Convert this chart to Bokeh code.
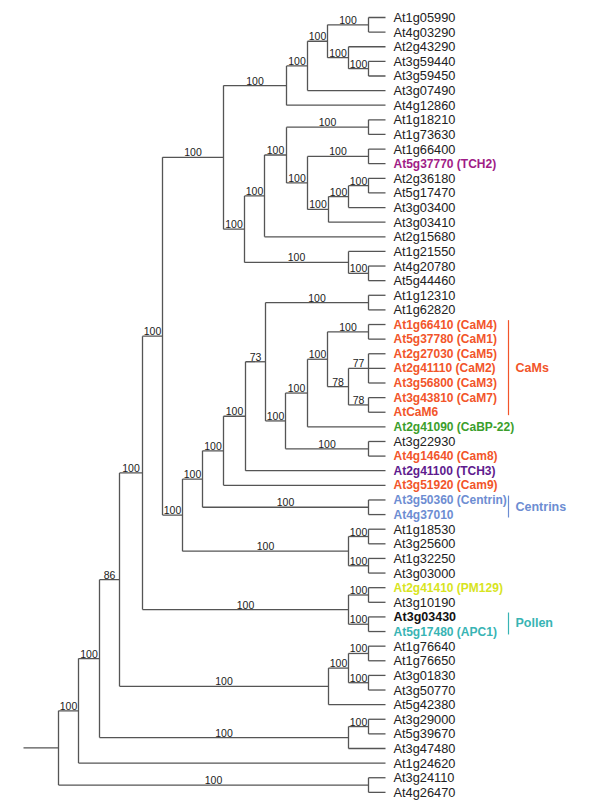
from bokeh.plotting import figure
from bokeh.models import Range1d
from bokeh.core.properties import value
from bokeh.embed import file_html
from bokeh.resources import INLINE

# ---------------- data ----------------
leaves = ["At1g05990", "At4g03290", "At2g43290", "At3g59440", "At3g59450", "At3g07490",
          "At4g12860", "At1g18210", "At1g73630", "At1g66400", "At5g37770 (TCH2)",
          "At2g36180", "At5g17470", "At3g03400", "At3g03410", "At2g15680", "At1g21550",
          "At4g20780", "At5g44460", "At1g12310", "At1g62820", "At1g66410 (CaM4)",
          "At5g37780 (CaM1)", "At2g27030 (CaM5)", "At2g41110 (CaM2)", "At3g56800 (CaM3)",
          "At3g43810 (CaM7)", "AtCaM6", "At2g41090 (CaBP-22)", "At3g22930",
          "At4g14640 (Cam8)", "At2g41100 (TCH3)", "At3g51920 (Cam9)",
          "At3g50360 (Centrin)", "At4g37010", "At1g18530", "At3g25600", "At1g32250",
          "At3g03000", "At2g41410 (PM129)", "At3g10190", "At3g03430", "At5g17480 (APC1)",
          "At1g76640", "At1g76650", "At3g01830", "At3g50770", "At5g42380", "At3g29000",
          "At5g39670", "At3g47480", "At1g24620", "At3g24110", "At4g26470"]

# leaf groups (for colouring)
group_of = {
    "At5g37770 (TCH2)": "TCH2",
    "At1g66410 (CaM4)": "CaM", "At5g37780 (CaM1)": "CaM", "At2g27030 (CaM5)": "CaM",
    "At2g41110 (CaM2)": "CaM", "At3g56800 (CaM3)": "CaM", "At3g43810 (CaM7)": "CaM",
    "AtCaM6": "CaM", "At4g14640 (Cam8)": "CaM", "At3g51920 (Cam9)": "CaM",
    "At2g41090 (CaBP-22)": "CaBP", "At2g41100 (TCH3)": "TCH3",
    "At3g50360 (Centrin)": "Centrin", "At4g37010": "Centrin",
    "At2g41410 (PM129)": "PM129", "At3g03430": "bold", "At5g17480 (APC1)": "APC1",
}

# internal nodes: name, children, node depth (x), bootstrap support
node_names = ["n1", "n2", "n3", "n4", "n5", "n6", "n7", "n8", "n9", "n10", "n11", "n12",
              "n13", "n14", "n15", "n16", "n17", "n18", "n19", "n20", "n21", "n22", "n23",
              "n24", "n25", "n26", "n27", "n28", "n29", "n30", "n31", "n32", "n33", "n34",
              "n35", "n36", "n37", "n38", "n39", "n40", "n41", "n42", "n43", "n44", "n45",
              "n46", "n47", "n48", "n49", "n50", "n51", "root"]
node_children = [[0, 1], [3, 4], [2, "n2"], ["n1", "n3"], ["n4", 5], ["n5", 6], [7, 8],
                 [9, 10], [11, 12], ["n9", 13], ["n10", 14], ["n8", "n11"], ["n7", "n12"],
                 ["n13", 15], [17, 18], [16, "n15"], ["n14", "n16"], ["n6", "n17"],
                 [19, 20], [21, 22], [23, 24, 25], [26, 27], ["n21", "n22"], ["n20", "n23"],
                 ["n24", 28], [29, 30], ["n25", "n26"], ["n19", "n27"], ["n28", 31],
                 ["n29", 32], [33, 34], ["n30", "n31"], [35, 36], [37, 38], ["n33", "n34"],
                 ["n32", "n35"], ["n18", "n36"], [39, 40], [41, 42], ["n38", "n39"],
                 ["n37", "n40"], [43, 44], [45, 46], ["n42", "n43"], ["n44", 47],
                 ["n41", "n45"], [48, 49], ["n47", 50], ["n46", "n48"], ["n49", 51],
                 [52, 53], ["n50", "n51"]]
node_depth = [368, 368, 348, 327, 307, 286, 368, 368, 368, 348, 328, 307, 286, 264, 368,
              348, 244, 223, 368, 368, 368, 368, 348, 327, 307, 368, 285, 265, 245, 223,
              368, 202, 368, 368, 348, 182, 162, 368, 368, 348, 142, 368, 368, 348, 328,
              119, 368, 348, 99, 78, 368, 58]
node_support = ["100", "100", "100", "100", "100", "100", "100", "100", "100", "100",
                "100", "100", "100", "100", "100", "100", "100", "100", "100", "100",
                "77", "78", "78", "100", "100", "100", "100", "73", "100", "100", "100",
                "100", "100", "100", "100", "100", "100", "100", "100", "100", "100",
                "100", "100", "100", "100", "86", "100", "100", "100", "100", "100", ""]
root_stem_depth = 23
leaf_depth = 385

bracket_names = ["CaMs", "Centrins", "Pollen"]
bracket_first = ["At1g66410 (CaM4)", "At3g50360 (Centrin)", "At3g03430"]
bracket_last = ["AtCaM6", "At4g37010", "At5g17480 (APC1)"]

# ---------------- styles ----------------
colors = {"TCH2": "#a01c86", "CaM": "#f2552a", "CaBP": "#3b9e2c", "TCH3": "#5e1b8e",
          "Centrin": "#6d8dd2", "PM129": "#d8e41e", "APC1": "#38b4b4", "bold": "#111111"}
bracket_colors = ["#f2552a", "#6d8dd2", "#38b4b4"]
LINE = "#555555"
FONT = "Liberation Sans"

# ---------------- layout ----------------
STEP = 14.62
Y0 = 17.0
W, H = 600, 802
p = figure(width=W, height=H, output_backend="svg", toolbar_location=None,
           x_range=Range1d(0, W),
           y_range=Range1d((H - Y0) / STEP, (0 - Y0) / STEP),
           min_border=0)
p.axis.visible = False
p.grid.visible = False
p.outline_line_color = None

node_x = dict(zip(node_names, node_depth))
node_y = {}
parent_x = {}


def get_y(c):
    if isinstance(c, int):
        return float(c)
    return node_y[c]


def get_x(c):
    if isinstance(c, int):
        return leaf_depth
    return node_x[c]


# nodes are listed bottom-up, so children are always computed first
for name, ch in zip(node_names, node_children):
    ys = [get_y(c) for c in ch]
    node_y[name] = (ys[0] + ys[-1]) / 2.0
    for c in ch:
        parent_x[c] = node_x[name]

xs, ys = [], []
for name, ch in zip(node_names, node_children):
    x = node_x[name]
    cy = [get_y(c) for c in ch]
    xs.append([x, x]); ys.append([cy[0], cy[-1]])
    for c in ch:
        xs.append([x, get_x(c)]); ys.append([get_y(c), get_y(c)])
xs.append([root_stem_depth, node_x["root"]]); ys.append([node_y["root"], node_y["root"]])
p.multi_line(xs, ys, line_color=LINE, line_width=1.3)

# support values
lx, ly, lt = [], [], []
for name, sup in zip(node_names, node_support):
    if not sup:
        continue
    lx.append((parent_x[name] + node_x[name]) / 2.0)
    ly.append(node_y[name])
    lt.append(sup)
p.text(lx, ly, text=lt, text_font=value(FONT), text_font_size="10.5px",
       text_align="center", text_baseline="bottom", y_offset=-1, text_color="#222222")

# leaf labels
for style in [None] + list(colors.keys()):
    idx = [i for i, n in enumerate(leaves) if group_of.get(n) == style]
    if not idx:
        continue
    col = "#222222" if style is None else colors[style]
    if style is None:
        fs, fw = "12.8px", "normal"
    elif style == "bold":
        fs, fw = "12.5px", "bold"
    else:
        fs, fw = "12px", "bold"
    p.text([leaf_depth + 8] * len(idx), idx, text=[leaves[i] for i in idx],
           text_font=value(FONT), text_font_size=fs, text_font_style=fw,
           text_align="left", text_baseline="middle", text_color=col)

# brackets
for bn, bf, bl, bc in zip(bracket_names, bracket_first, bracket_last, bracket_colors):
    i0 = leaves.index(bf) - 0.3
    i1 = leaves.index(bl) + 0.2
    p.line([508, 508], [i0, i1], line_color=bc, line_width=1.2)
    p.text([515], [(i0 + i1) / 2], text=[bn], text_font=value(FONT),
           text_font_size="12.5px", text_font_style="bold",
           text_align="left", text_baseline="middle", text_color=bc)

open("out.html", "w").write(file_html(p, INLINE))
